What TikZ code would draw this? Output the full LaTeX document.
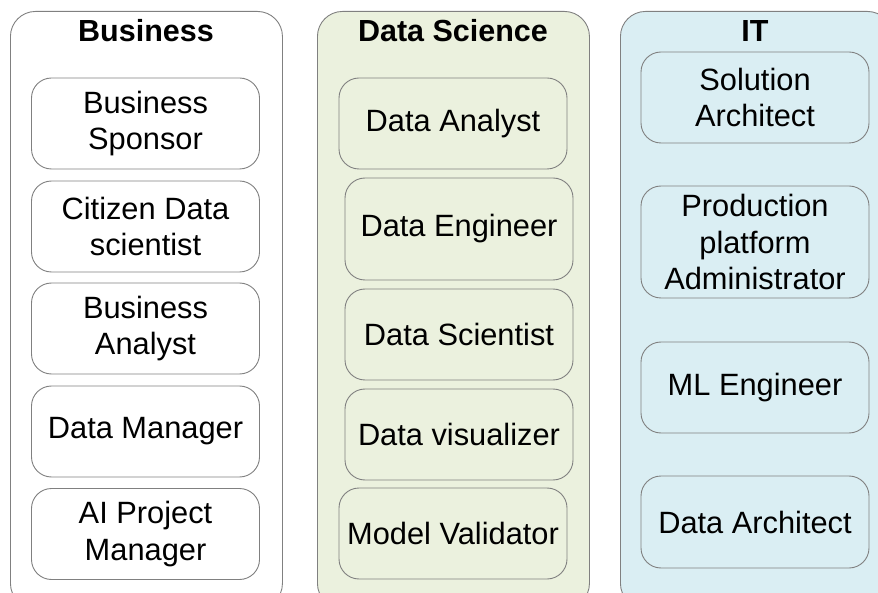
\documentclass[tikz,border=0pt]{standalone}
\usepackage{fontspec}
\setmainfont{Liberation Sans}
\usepackage{tikz}
\usetikzlibrary{positioning, calc}
\definecolor{edgegray}{rgb}{0.5,0.5,0.5}
\definecolor{sciencegreen}{RGB}{235,241,222}
\definecolor{itblue}{RGB}{218,238,243}

\tikzset{
    panel/.style={draw=edgegray, line width=0.9pt, rounded corners=25pt,
        minimum width=272pt, minimum height=597pt, inner sep=0pt, anchor=north west},
    role/.style={draw=edgegray, line width=0.9pt, rounded corners=20pt,
        minimum width=228pt, inner sep=0pt, align=center,
        font=\fontsize{30.8}{36.5}\selectfont},
    heading/.style={anchor=base, font=\fontsize{30.5}{36}\selectfont\bfseries}
}

\begin{document}
\begin{tikzpicture}[x=1pt, y=-1pt]
    \clip (0,0) rectangle (878,593);

    % THE THREE GROUP PANELS
    \node[panel, fill=white] (business) at (10,11) {};
    \node[panel, fill=sciencegreen] (science) at (317,11) {};
    \node[panel, fill=itblue] (it) at (620,11) {};

    \node[heading] (businesstitle) at (146,42) {Business};
    \node[heading] (sciencetitle) at (453,42) {Data Science};
    \node[heading] (ittitle) at (755,42) {IT};

    % BUSINESS ROLES
    \foreach \n/\y/\m in {
        sponsor/123.5/{Business\\Sponsor},
        citizen/226.5/{Citizen Data\\scientist},
        banalyst/328.5/{Business\\Analyst},
        dmanager/431.5/{Data Manager},
        aipm/534/{AI Project\\Manager}}
        \node[role, fill=white, minimum height=91pt] (\n) at (145.5,\y) {\m};

    % DATA SCIENCE ROLES   (x/y/height)
    \foreach \n/\x/\y/\h/\m in {
        danalyst/453/123.5/91/{Data Analyst},
        dengineer/459/229/102/{Data Engineer},
        dscientist/459/334.5/91/{Data Scientist},
        dvisual/459/434.5/91/{Data visualizer},
        mvalidator/453/533.5/91/{Model Validator}}
        \node[role, fill=sciencegreen, minimum height=\h pt] (\n) at (\x,\y) {\m};

    % IT ROLES
    \foreach \n/\y/\h/\m in {
        solarch/97.5/91/{Solution\\Architect},
        prodadmin/242/112/{Production\\platform\\Administrator},
        mlengineer/387.5/91/{ML Engineer},
        dataarch/522/92/{Data Architect}}
        \node[role, fill=itblue, minimum height=\h pt] (\n) at (755,\y) {\m};

\end{tikzpicture}
\end{document}
